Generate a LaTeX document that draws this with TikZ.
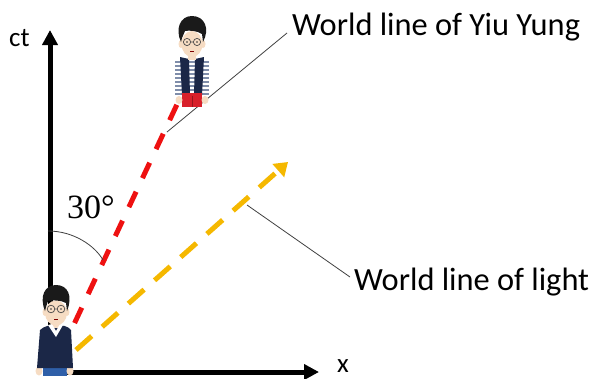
\documentclass[tikz,border=0pt]{standalone}
\usepackage{fontspec}
\setmainfont{Carlito}
\newfontfamily\numfont{Liberation Serif}
\usetikzlibrary{arrows.meta}
\definecolor{linered}{HTML}{EE1111}
\definecolor{lightgold}{HTML}{F5B800}
\definecolor{navy}{HTML}{1B2747}
\definecolor{skin}{HTML}{F6DCC3}
\definecolor{shortred}{HTML}{D8202A}
\definecolor{shortblue}{HTML}{2F5FA8}
\definecolor{stripe}{HTML}{7F8DAA}
\definecolor{hair}{HTML}{1A1A1A}
\begin{document}
\begin{tikzpicture}[x=1pt,y=-1pt,
  axis/.style={line width=5pt,-{Triangle[length=15pt,width=15pt]}},
  redline/.style={linered,line width=5pt,dash pattern=on 17pt off 15pt},
  goldline/.style={lightgold,line width=5pt,dash pattern=on 21pt off 14pt,
    -{Triangle[length=13pt,width=17pt]}},
  leader/.style={black!75,line width=0.8pt},
  label/.style={font=\fontsize{32.4}{34}\selectfont,anchor=base west,inner sep=0pt},
  axlabel/.style={font=\fontsize{27}{29}\selectfont,anchor=base west,inner sep=0pt},
  glasses/.style={black!70,line width=0.7pt}]
\useasboundingbox (0,0) rectangle (593,378);

% axes
\coordinate (O) at (50,372);
\coordinate (ctend) at (50,30);
\coordinate (xend) at (319,372);
\draw[axis] ([yshift=2.5pt]O) -- (ctend);
\draw[axis] ([xshift=-2.5pt]O) -- (xend);
\node[axlabel] (ct) at (9,46) {ct};
\node[axlabel] (x) at (337,372) {x};

% world lines
\coordinate (rstart) at (61,352);
\coordinate (rend) at (180,98);
\draw[redline] (rstart) -- (rend);
\coordinate (gstart) at (76,350);
\coordinate (gend) at (288,162);
\draw[goldline] (gstart) -- (gend);

% angle mark
\coordinate (a1) at (48,231);
\coordinate (a2) at (103,260);
\draw[black!75,line width=0.8pt] (a1) .. controls (74,231) and (95,246) .. (a2);
\node[inner sep=0pt,anchor=base west,font=\numfont\fontsize{34}{36}\selectfont] (ang) at (67,218) {30°};

% labels and leaders
\node[label] (yiu) at (292,35) {World line of Yiu Yung};
\node[label] (light) at (354,290) {World line of light};
\coordinate (l1) at (167,132);
\coordinate (l2) at (287,33);
\draw[leader] (l1) -- (l2);
\coordinate (l3) at (247,205);
\coordinate (l4) at (350,277);
\draw[leader] (l3) -- (l4);

% --- walking figure (striped shirt, vest, red shorts)
\fill[white] (175,60) rectangle (209,97);
\foreach \yy in {62,66,...,94}{
  \draw[stripe,line width=1.3pt] (175,\yy) -- (209,\yy);}
\fill[navy] (180,57) -- (189,59) -- (190,95) -- (182,95) -- cycle;
\fill[navy] (204,57) -- (195,59) -- (194,95) -- (202,95) -- cycle;
\fill[shortred] (182,93) rectangle (202,107);
\draw[shortred!70!black,line width=0.6pt] (192,96) -- (192,107);
\fill[skin] (179,100) ellipse [x radius=3.5,y radius=4];
\fill[skin] (205,100) ellipse [x radius=3.5,y radius=4];
\fill[skin] (188,50) rectangle (196,60);
\fill[skin] (181,44) ellipse [x radius=2.5,y radius=4];
\fill[skin] (203,44) ellipse [x radius=2.5,y radius=4];
\fill[skin] (192,44) ellipse [x radius=10.5,y radius=13];
\fill[hair] (181,42) .. controls (175,29) and (180,16) .. (192,16)
  .. controls (205,16) and (210,29) .. (203,42) -- (202,34)
  .. controls (198,31) and (189,30) .. (185,31) -- (182,38) -- cycle;
\draw[glasses] (187,42) circle [radius=3.6] (197,42) circle [radius=3.6]
  (190.6,42) -- (193.4,42);
\fill[black!80] (187,42) circle [radius=0.9] (197,42) circle [radius=0.9];
\draw[red!50!black,line width=0.6pt] (190,51) -- (194,51);

% --- standing figure (navy sweater, blue shorts)
\fill[shortblue] (43,364) rectangle (67,376);
\fill[skin] (39,371) ellipse [x radius=3.5,y radius=4.5];
\fill[skin] (70,371) ellipse [x radius=3.5,y radius=4.5];
\fill[navy] (40,330) .. controls (44,326) and (50,325) .. (56,325)
  .. controls (62,325) and (68,326) .. (71,330) -- (73,368) -- (37,368) -- cycle;
\fill[skin] (51,320) rectangle (61,328);
\fill[white] (48,325) -- (56,337) -- (63,325) -- (60,324) -- (56,331) -- (52,324) -- cycle;
\fill[skin] (45,312) ellipse [x radius=2.5,y radius=4];
\fill[skin] (67,312) ellipse [x radius=2.5,y radius=4];
\fill[skin] (56,313) ellipse [x radius=11,y radius=12.5];
\fill[hair] (45,311) .. controls (39,296) and (45,285) .. (56,285)
  .. controls (68,285) and (73,296) .. (67,311) -- (66,303)
  .. controls (61,300) and (52,300) .. (48,301) -- (46,307) -- cycle;
\draw[glasses] (51,309) circle [radius=3.8] (61,309) circle [radius=3.8]
  (54.8,309) -- (57.2,309);
\fill[black!80] (51,309) circle [radius=0.9] (61,309) circle [radius=0.9];
\draw[red!50!black,line width=0.6pt] (54,319) -- (58,319);
\end{tikzpicture}
\end{document}
